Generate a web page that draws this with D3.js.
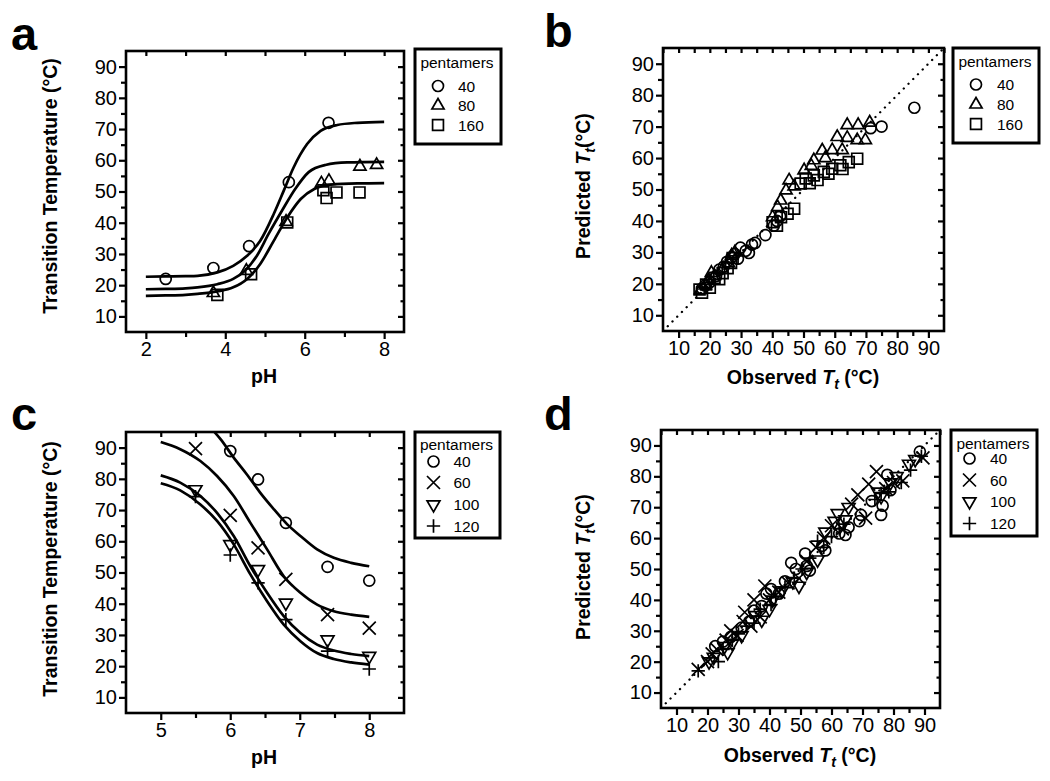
<!DOCTYPE html>
<html>
<head>
<meta charset="utf-8">
<script src="https://cdn.jsdelivr.net/npm/d3@7"></script>
<style>
body{margin:0;background:#fff;}
svg{display:block;font-family:"Liberation Sans",Arial,Helvetica,sans-serif;}
.tick text{font-size:20px;font-family:"Liberation Sans",Arial,sans-serif;fill:#000;}
.tick line{stroke:#000;stroke-width:2.2px;}
</style>
</head>
<body>
<svg id="fig" width="1050" height="781"></svg>
<script>
// ---- panel a : Tt vs pH, measured points [pH, Tt] ----
var aLegend = ["40", "80", "160"];
var aPts40  = [[2.5,22],[3.7,25.5],[4.6,32.5],[5.6,53],[6.6,72]];
var aPts80  = [[3.7,17.5],[4.53,24.6],[5.53,40.3],[6.42,52.6],[6.61,53.4],[7.39,58],[7.81,58.5]];
var aPts160 = [[3.8,16.9],[4.65,23.5],[5.56,40.1],[6.47,50.4],[6.55,47.9],[6.8,49.7],[7.38,49.7]];
// fitted curves [pH, Tt]
var aFit40  = [[2,22.7],[2.5,22.8],[3,22.9],[3.3,23.0],[3.8,24.1],[4.2,26.2],[4.55,29.4],[4.88,34.2],[5.22,42.8],[5.47,50.2],[5.72,57.7],[6.06,65.2],[6.4,69.4],[6.82,71.3],[7.33,72],[8,72.3]];
var aFit80  = [[2,18.7],[2.5,18.8],[3,19.0],[3.3,19.3],[3.8,20.3],[4.2,22.0],[4.5,24.7],[4.8,29.5],[5.09,36.4],[5.43,43.9],[5.76,50.8],[6.1,56.2],[6.52,58.5],[7.07,59.3],[8,59.5]];
var aFit160 = [[2,16.6],[2.5,16.7],[3,16.9],[3.3,17.2],[3.8,18.0],[4.2,19.3],[4.55,22],[4.88,26.8],[5.22,34.2],[5.56,41.7],[5.9,47.6],[6.24,50.8],[6.66,52.2],[7.33,52.6],[8,52.7]];

// ---- panel b : predicted vs observed Tt [observed, predicted] ----
var bPts40 = [[17.5,18.5],[18.5,19.5],[20,20.5],[22,22.5],[23,24.5],[24.5,25.5],[25.5,27],[27,28.5],[28,29.5],[29,28],[29.8,31.5],[31.5,30.5],[32.5,29.8],[33.5,32.5],[34.5,33],[37.8,35.5],[40.5,38.5],[41.5,40],[42.5,41.5],[71.5,69.5],[75,70],[85.5,76]];
var bPts80 = [[17,18],[18.5,19.5],[19.5,21],[20.5,23.5],[21.5,22.5],[24,24.5],[26,26.5],[27,29],[28,30],[40.1,41.2],[41.7,44.4],[42.7,46.5],[44.4,49.7],[45.4,52.9],[47,51],[50.2,56.1],[52.5,57.5],[53.3,59.3],[56,62.4],[57,60],[59.2,62.5],[60.8,66.7],[62.4,62.5],[64,66.4],[64,70.5],[67.2,65.7],[67.5,70.5],[69.8,65.7],[71.2,71.3]];
var bPts160 = [[16.7,18.2],[17.5,17.2],[18.8,19.8],[20,18.8],[21.5,21.9],[23,21.5],[24.1,23.4],[25.7,25],[26.8,26.6],[27.3,28.2],[40.1,39.6],[41.5,38.5],[42.8,41.2],[44.9,42.3],[47,43.9],[49.1,51.9],[50.7,53.5],[52,52],[53.3,54.5],[54.5,53],[56.5,55.6],[58,55],[59.2,56.6],[61.8,57.7],[62.5,56.5],[64.5,58.7],[67.2,59.8]];

// ---- panel c : Tt vs pH, measured points [pH, Tt] ----
var cLegend = ["40", "60", "100", "120"];
var cPts40  = [[6.0,88.9],[6.4,79.8],[6.8,65.9],[7.4,51.8],[8.0,47.4]];
var cPts60  = [[5.5,89.7],[6.0,68.3],[6.4,57.9],[6.8,47.8],[7.4,36.5],[8.0,32.2]];
var cPts100 = [[5.5,76.6],[6.0,59],[6.4,51],[6.8,40.3],[7.4,28.5],[8.0,23.2]];
var cPts120 = [[5.5,74.3],[6.0,55.6],[6.4,46.7],[6.8,34.9],[7.4,24.8],[8.0,19.1]];
var cFit40  = [[5.7,96.8],[5.76,95.3],[5.86,92.7],[6.05,86.8],[6.24,81.4],[6.43,75.6],[6.63,70.2],[6.82,65.4],[7.01,61.7],[7.25,57.4],[7.49,54.7],[7.74,53.1],[8,52]];
var cFit60  = [[5,91.8],[5.28,89.5],[5.57,85.7],[5.81,80.9],[6.05,74.5],[6.29,65.9],[6.53,57.4],[6.77,48.8],[7.01,43.5],[7.25,39.7],[7.49,37.6],[7.74,36.5],[8,35.8]];
var cFit100 = [[5,81.1],[5.28,78.8],[5.57,74.5],[5.81,69.1],[6.05,61.7],[6.29,52],[6.53,43.5],[6.77,36],[7.01,30.6],[7.25,26.9],[7.49,25],[7.74,23.9],[8,23.2]];
var cFit120 = [[5,78.6],[5.28,76.3],[5.57,71.8],[5.81,66.5],[6.05,59],[6.29,49.4],[6.53,40.8],[6.77,33.3],[7.01,28],[7.25,24.2],[7.49,22.3],[7.74,21.2],[8,20.5]];

// ---- panel d : predicted vs observed Tt [observed, predicted] ----
var dPts40 = [[22.5,25],[25,26.5],[27.5,28],[31,31],[33.5,33],[35,36.5],[37.5,38],[39,42],[40.5,43.5],[43,42],[45,46],[47,52],[48.5,50],[51.5,55],[52,51],[53,49.5],[57,57.5],[58,56],[62.5,61.5],[64.5,61],[65.5,63.5],[69,65.5],[69.5,67.5],[73,72],[76,67.5],[76.5,70.5],[78,80.5],[79,75.5],[88.5,88]];
var dPts60 = [[17,17.5],[20,20],[21.5,22.5],[23,24],[26,27],[27.5,30],[29.5,28.5],[31.5,33],[32,36],[34,31.5],[35,40],[37,34.5],[38.5,44.5],[40,40],[43,42.5],[46,45.5],[49.5,47],[52,52.5],[55,57],[57.5,60],[60,64],[63.5,63],[66.5,71],[68.5,74],[71,66.5],[72,77.5],[74.5,81.5],[77.5,76],[80,78],[83,78.5],[89.5,86]];
var dPts100 = [[20.5,20],[22,21.5],[25.5,25],[26.5,23],[28,26],[31,28.5],[35.5,35],[37.5,33.5],[40,37],[41,40],[44,43],[47.5,46],[49.5,44.5],[52,49],[55.5,53],[58,62],[61,65.5],[62,68],[64.5,66],[65.5,70],[75,75],[76,73.5],[79,78],[81,80],[85,84],[87,85.5]];
var dPts120 = [[17,17],[23.5,20],[25,24],[28,27],[30,29],[32.5,31.5],[35,32.5],[37,37],[40.5,38.5],[42,41],[45,44],[48,47],[50.5,50],[53,53.5],[55.5,59],[57.5,57],[60,60.5],[62.5,63],[64,64.5],[74,72.5],[76,74.5],[78.5,75],[82.5,78],[85.5,82],[89,86.5]];

// identity line for the parity plots
var parityLine = [[5,5],[95,95]];

// ---- tick values ----
var phTicksA = [2, 4, 6, 8], phMinorA = [3, 5, 7], phAllA = [2, 3, 4, 5, 6, 7, 8];
var phTicksC = [5, 6, 7, 8], phMinorC = [5.5, 6.5, 7.5];
var tTicks = [10, 20, 30, 40, 50, 60, 70, 80, 90];
var tMinor = [15, 25, 35, 45, 55, 65, 75, 85];

var svg = d3.select("#fig");
var FONT = "'Liberation Sans', Arial, sans-serif";

var Sym = {
	circle:   function(){ return d3.symbol().type(d3.symbolCircle).size(95)(); },
	triangle: function(){ return d3.symbol().type(d3.symbolTriangle).size(64)(); },
	square:   function(){ return d3.symbol().type(d3.symbolSquare).size(118)(); },
	times:    function(){ return d3.symbol().type(d3.symbolTimes).size(112)(); },
	tridown:  function(){ return d3.symbol().type(d3.symbolTriangle).size(72)(); },
	plus:     function(){ return d3.symbol().type(d3.symbolPlus).size(60)(); }
};
function symTransform(type, x, y){
	return "translate(" + x + "," + y + ")" + (type == "tridown" ? " rotate(180)" : "");
}

function addTitle(g, parts, x, y, rotate){
	var t = g.append("text")
		.attr("transform", "translate(" + x + "," + y + ")" + (rotate ? " rotate(-90)" : ""))
		.attr("text-anchor", "middle")
		.attr("dy", "0.35em")
		.attr("font-size", 19.5)
		.attr("font-weight", "bold");
	parts.forEach(function(p){
		var s = t.append("tspan").text(p.t);
		if (p.it) s.attr("font-style", "italic");
		if (p.sub) s.attr("font-size", 14).attr("dy", 5);
		if (p.up) s.attr("dy", -5);
	});
}

function drawPanel(cfg){
	var g = svg.append("g");
	var fr = cfg.frame;
	var x = d3.scaleLinear().domain(cfg.xDomain).range([fr[0], fr[2]]);
	var y = d3.scaleLinear().domain([5, 95]).range([fr[3], fr[1]]);
	var clipId = "clip-" + cfg.letter;
	svg.append("clipPath").attr("id", clipId).append("rect")
		.attr("x", fr[0]).attr("y", fr[1]).attr("width", fr[2] - fr[0]).attr("height", fr[3] - fr[1]);

	// axes: outward labelled ticks on left/bottom, inward ticks on top/right
	function axisG(axis, tx, ty){
		var a = g.append("g").attr("transform", "translate(" + tx + "," + ty + ")").call(axis);
		a.select(".domain").remove();
		return a;
	}
	axisG(d3.axisBottom(x).tickValues(cfg.xTicks).tickSize(7).tickPadding(3).tickFormat(d3.format("d")), 0, fr[3]);
	axisG(d3.axisBottom(x).tickValues(cfg.xMinor).tickSize(5).tickFormat(""), 0, fr[3]);
	axisG(d3.axisLeft(y).tickValues(tTicks).tickSize(7).tickPadding(2), fr[0], 0);
	axisG(d3.axisLeft(y).tickValues(tMinor).tickSize(5).tickFormat(""), fr[0], 0);
	axisG(d3.axisBottom(x).tickValues(cfg.xTop).tickSize(5).tickFormat(""), 0, fr[1]);
	axisG(d3.axisLeft(y).tickValues(tTicks).tickSize(6).tickFormat(""), fr[2], 0);
	axisG(d3.axisLeft(y).tickValues(tMinor).tickSize(3.5).tickFormat(""), fr[2], 0);

	var plot = g.append("g").attr("clip-path", "url(#" + clipId + ")");
	if (cfg.parity) {
		plot.append("path").datum(parityLine)
			.attr("d", d3.line().x(function(d){ return x(d[0]); }).y(function(d){ return y(d[1]); }))
			.attr("fill", "none").attr("stroke", "#000").attr("stroke-width", 2.3)
			.attr("stroke-linecap", "round").attr("stroke-dasharray", "0.1,6.6");
	}
	var line = d3.line().curve(d3.curveMonotoneX)
		.x(function(d){ return x(d[0]); }).y(function(d){ return y(d[1]); });
	cfg.series.forEach(function(s){
		if (s.fit) {
			plot.append("path").datum(s.fit).attr("d", line)
				.attr("fill", "none").attr("stroke", "#000").attr("stroke-width", 2.7);
		}
	});
	cfg.series.forEach(function(s){
		g.append("g").selectAll("path").data(s.pts).enter().append("path")
			.attr("d", Sym[s.sym]())
			.attr("transform", function(d){ return symTransform(s.sym, x(d[0]), y(d[1])); })
			.attr("fill", "none").attr("stroke", "#000").attr("stroke-width", 1.7);
	});

	g.append("rect").attr("x", fr[0]).attr("y", fr[1])
		.attr("width", fr[2] - fr[0]).attr("height", fr[3] - fr[1])
		.attr("fill", "none").attr("stroke", "#000").attr("stroke-width", 2.6);

	// legend
	var lg = cfg.legend, lb = lg.box;
	g.append("rect").attr("x", lb[0]).attr("y", lb[1]).attr("width", lb[2] - lb[0]).attr("height", lb[3] - lb[1])
		.attr("fill", "#fff").attr("stroke", "#000").attr("stroke-width", 3);
	g.append("text").attr("x", (lb[0] + lb[2]) / 2 - 1).attr("y", lg.titleY)
		.attr("text-anchor", "middle").attr("font-size", 15.5).text("pentamers");
	var rows = g.selectAll(".lrow").data(cfg.series).enter().append("g").attr("class", "lrow");
	rows.append("path")
		.attr("d", function(s){ return Sym[s.sym](); })
		.attr("transform", function(s, i){ return symTransform(s.sym, lg.symX, lg.rowY[i]); })
		.attr("fill", "none").attr("stroke", "#000").attr("stroke-width", 1.7);
	rows.append("text").attr("x", lg.textX)
		.attr("y", function(s, i){ return lg.rowY[i]; }).attr("dy", "0.36em")
		.attr("font-size", 15.5).text(function(s){ return s.name; });

	// titles and panel letter
	addTitle(g, cfg.xTitle, cfg.xTitlePos[0], cfg.xTitlePos[1], false);
	addTitle(g, cfg.yTitle, cfg.yTitlePos[0], cfg.yTitlePos[1], true);
	g.append("text").attr("x", cfg.letterPos[0]).attr("y", cfg.letterPos[1])
		.attr("font-size", 47).attr("font-weight", "bold").text(cfg.letter);
}

var phTitle = [{t: "pH"}];
var ttTitle = [{t: "Transition Temperature (°C)"}];
var predTitle = [{t: "Predicted "}, {t: "T", it: true}, {t: "t", it: true, sub: true}, {t: "(°C)", up: true}];
var obsTitle = [{t: "Observed "}, {t: "T", it: true}, {t: "t", it: true, sub: true}, {t: " (°C)", up: true}];
var tAllTicks = d3.range(5, 96, 5);

drawPanel({
	letter: "a", letterPos: [11, 50],
	frame: [126, 51, 404, 332], xDomain: [1.5, 8.5],
	xTicks: phTicksA, xMinor: phMinorA, xTop: phAllA,
	series: [
		{name: aLegend[0], sym: "circle", pts: aPts40, fit: aFit40},
		{name: aLegend[1], sym: "triangle", pts: aPts80, fit: aFit80},
		{name: aLegend[2], sym: "square", pts: aPts160, fit: aFit160}
	],
	legend: {box: [415, 49, 501, 144], titleY: 68, symX: 438, textX: 458, rowY: [86, 105.5, 125]},
	xTitle: phTitle, xTitlePos: [264, 376],
	yTitle: ttTitle, yTitlePos: [50, 186]
});

drawPanel({
	letter: "b", letterPos: [544, 47],
	frame: [663, 48, 944, 331], xDomain: [5, 95],
	xTicks: tTicks, xMinor: tMinor, xTop: tAllTicks,
	parity: true,
	series: [
		{name: aLegend[0], sym: "circle", pts: bPts40},
		{name: aLegend[1], sym: "triangle", pts: bPts80},
		{name: aLegend[2], sym: "square", pts: bPts160}
	],
	legend: {box: [953, 48, 1039, 143], titleY: 66.5, symX: 976, textX: 997, rowY: [84.5, 104.5, 124]},
	xTitle: obsTitle, xTitlePos: [803, 377],
	yTitle: predTitle, yTitlePos: [583, 186]
});

drawPanel({
	letter: "c", letterPos: [11, 430],
	frame: [126, 432, 404, 713], xDomain: [4.5, 8.5],
	xTicks: phTicksC, xMinor: phMinorC, xTop: [5, 5.5, 6, 6.5, 7, 7.5, 8],
	series: [
		{name: cLegend[0], sym: "circle", pts: cPts40, fit: cFit40},
		{name: cLegend[1], sym: "times", pts: cPts60, fit: cFit60},
		{name: cLegend[2], sym: "tridown", pts: cPts100, fit: cFit100},
		{name: cLegend[3], sym: "plus", pts: cPts120, fit: cFit120}
	],
	legend: {box: [415, 432, 500, 538], titleY: 450, symX: 433.5, textX: 453.5, rowY: [461.5, 482.5, 504.5, 526]},
	xTitle: phTitle, xTitlePos: [264, 757],
	yTitle: ttTitle, yTitlePos: [50, 569]
});

drawPanel({
	letter: "d", letterPos: [544, 430],
	frame: [661, 430, 940, 708], xDomain: [5, 95],
	xTicks: tTicks, xMinor: tMinor, xTop: tAllTicks,
	parity: true,
	series: [
		{name: cLegend[0], sym: "circle", pts: dPts40},
		{name: cLegend[1], sym: "times", pts: dPts60},
		{name: cLegend[2], sym: "tridown", pts: dPts100},
		{name: cLegend[3], sym: "plus", pts: dPts120}
	],
	legend: {box: [951, 430, 1037, 536], titleY: 449, symX: 969.5, textX: 990, rowY: [458.5, 480, 501.5, 523.5]},
	xTitle: obsTitle, xTitlePos: [800, 755],
	yTitle: predTitle, yTitlePos: [583, 567]
});
</script>
</body>
</html>
